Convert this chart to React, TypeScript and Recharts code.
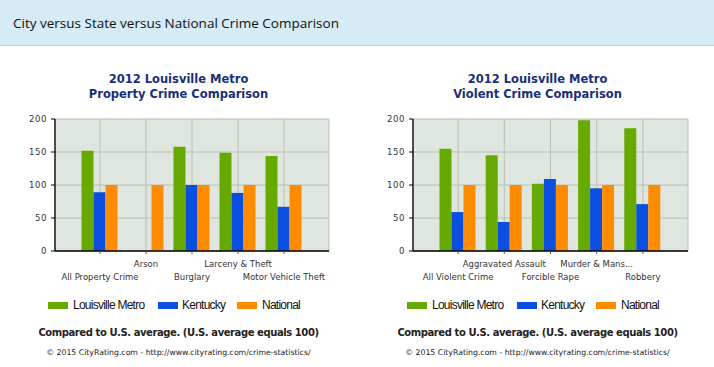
import React from "react";
import { BarChart, Bar, XAxis, YAxis, CartesianGrid } from "recharts";

const seriesNames = ["Louisville Metro", "Kentucky", "National"];
const seriesKeys = ["city", "state", "national"];
const seriesColors = ["#66aa00", "#0b4fe0", "#ff8c00"];

const propertyCategories = ["All Property Crime", "Arson", "Burglary", "Larceny & Theft", "Motor Vehicle Theft"];
const propertyCity = [152, 0, 158, 149, 144];
const propertyState = [89, 0, 100, 88, 67];
const propertyNational = [100, 100, 100, 100, 100];

const violentCategories = ["All Violent Crime", "Aggravated Assault", "Forcible Rape", "Murder & Mans...", "Robbery"];
const violentCity = [155, 145, 102, 198, 186];
const violentState = [59, 44, 109, 95, 71];
const violentNational = [100, 100, 100, 100, 100];

const yTicks = [0, 50, 100, 150, 200];

const headerTitle = "City versus State versus National Crime Comparison";
const chartTitleLine1 = "2012 Louisville Metro";
const propertyTitle = "Property Crime Comparison";
const violentTitle = "Violent Crime Comparison";
const noteText = "Compared to U.S. average. (U.S. average equals 100)";
const copyrightText = "© 2015 CityRating.com - http://www.cityrating.com/crime-statistics/";

function buildRows(cats: string[], a: number[], b: number[], c: number[]) {
  return cats.map((name, i) => ({ name, city: a[i], state: b[i], national: c[i] }));
}

const StaggerTick = (props: any) => {
  const { x, y, payload, index } = props;
  const dy = index % 2 === 1 ? 14 : 27;
  return (
    <text
      x={x}
      y={y - 3 + dy}
      textAnchor="middle"
      fill="#333"
      fontFamily="DejaVu Sans, Verdana, sans-serif"
      fontSize={8.5}
    >
      {payload.value}
    </text>
  );
};

const YTick = (props: any) => {
  const { x, y, payload } = props;
  return (
    <text
      x={x - 2}
      y={y + 3}
      textAnchor="end"
      fill="#333"
      fontFamily="DejaVu Sans, Verdana, sans-serif"
      fontSize={8.5}
      letterSpacing={0.6}
    >
      {payload.value}
    </text>
  );
};

function Panel({ left, plotLeft, subtitle, rows }: { left: number; plotLeft: number; subtitle: string; rows: any[] }) {
  const W = 357;
  return (
    <div style={{ position: "absolute", left, top: 46, width: W, height: 321 }}>
      <div
        style={{
          position: "absolute",
          top: 26,
          left: 0,
          width: W,
          textAlign: "center",
          fontFamily: "DejaVu Sans, Verdana, sans-serif",
          fontWeight: "bold",
          fontSize: 11.5,
          lineHeight: "15px",
          color: "#1a2f78",
        }}
      >
        <div>{chartTitleLine1}</div>
        <div>{subtitle}</div>
      </div>
      <div style={{ position: "absolute", top: 64, left: 0 }}>
        <BarChart
          width={W}
          height={175}
          data={rows}
          margin={{ top: 9, right: 28, bottom: 4, left: plotLeft - 40 }}
          barCategoryGap={4.5}
          barGap={0}
        >
          <CartesianGrid stroke="#b8c0b4" fill="#dfe6df" strokeWidth={1} />
          <XAxis
            dataKey="name"
            interval={0}
            padding={{ left: 22, right: 22 }}
            axisLine={{ stroke: "#000", strokeWidth: 1.3 }}
            tickLine={{ stroke: "#555" }}
            tickSize={3}
            height={30}
            tick={<StaggerTick />}
          />
          <YAxis
            width={40}
            domain={[0, 200]}
            ticks={yTicks}
            interval={0}
            axisLine={{ stroke: "#000", strokeWidth: 1.3 }}
            tickLine={{ stroke: "#000" }}
            tickSize={4}
            tick={<YTick />}
          />
          {seriesKeys.map((k, i) => (
            <Bar key={k} dataKey={k} fill={seriesColors[i]} isAnimationActive={false} />
          ))}
        </BarChart>
      </div>
      <div style={{ position: "absolute", top: 252, left: 48, height: 14, width: 300 }}>
        {seriesNames.map((n, i) => (
          <div
            key={n}
            style={{ position: "absolute", left: [0, 110, 189][i], top: 0, display: "flex", alignItems: "center", height: 14 }}
          >
            <div style={{ width: 20, height: 7, background: seriesColors[i] }} />
            <span
              style={{
                marginLeft: [5, 4, 5][i],
                fontFamily: "Liberation Sans, Arial, sans-serif",
                fontSize: 12,
                letterSpacing: -0.75,
                color: "#111",
                whiteSpace: "nowrap",
              }}
            >
              {n}
            </span>
          </div>
        ))}
      </div>
      <div
        style={{
          position: "absolute",
          top: 281,
          left: 0,
          width: W,
          textAlign: "center",
          fontFamily: "DejaVu Sans, Verdana, sans-serif",
          fontWeight: "bold",
          fontSize: 10,
          letterSpacing: -0.42,
          color: "#222",
          whiteSpace: "nowrap",
        }}
      >
        {noteText}
      </div>
      <div
        style={{
          position: "absolute",
          top: 302,
          left: 0,
          width: W,
          textAlign: "center",
          fontFamily: "DejaVu Sans, Verdana, sans-serif",
          fontSize: 7.75,
          color: "#222",
          whiteSpace: "nowrap",
        }}
      >
        {copyrightText}
      </div>
    </div>
  );
}

export default function App() {
  const propertyRows = buildRows(propertyCategories, propertyCity, propertyState, propertyNational);
  const violentRows = buildRows(violentCategories, violentCity, violentState, violentNational);
  return (
    <div style={{ position: "absolute", left: 0, top: 0, width: 714, height: 367, background: "#fff", overflow: "hidden" }}>
      <div
        style={{
          position: "absolute",
          left: 0,
          top: 0,
          width: 714,
          height: 45,
          background: "#d5ebf5",
          borderBottom: "1px solid #a6d3e6",
        }}
      >
        <div
          style={{
            position: "absolute",
            left: 13,
            top: 14,
            fontFamily: "Open Sans, sans-serif",
            fontSize: 13.5,
            color: "#111",
            whiteSpace: "nowrap",
          }}
        >
          {headerTitle}
        </div>
      </div>
      <Panel left={0} plotLeft={55} subtitle={propertyTitle} rows={propertyRows} />
      <Panel left={359} plotLeft={54} subtitle={violentTitle} rows={violentRows} />
    </div>
  );
}
